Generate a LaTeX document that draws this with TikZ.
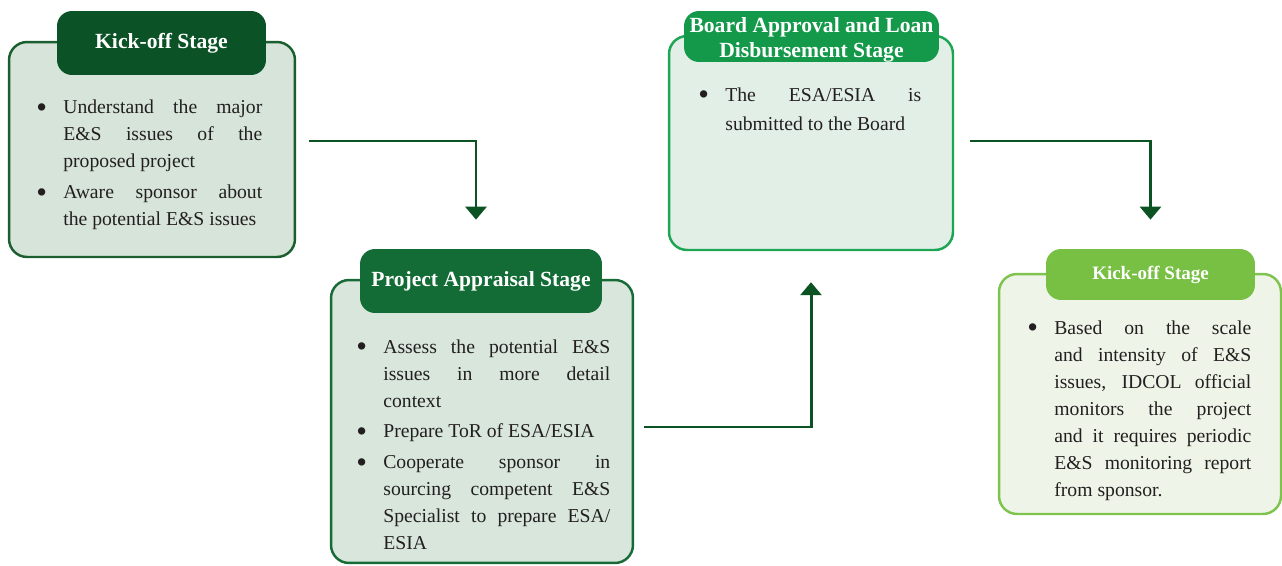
\documentclass[tikz,border=0pt]{standalone}
\usepackage{fontspec}
\usepackage{graphicx}
\setmainfont{Liberation Serif}
\usetikzlibrary{arrows.meta}
\hbadness=10000

\definecolor{inkdark}{HTML}{231F20}
\definecolor{flowgreen}{HTML}{0B5323}
\definecolor{kickline}{HTML}{1B5E2F}
\definecolor{kickfill}{HTML}{D6E4DA}
\definecolor{kicktab}{HTML}{0B5226}
\definecolor{apprline}{HTML}{176B37}
\definecolor{apprfill}{HTML}{D8E6DC}
\definecolor{apprtab}{HTML}{136B35}
\definecolor{boardline}{HTML}{1EA553}
\definecolor{boardfill}{HTML}{E2EFE6}
\definecolor{boardtab}{HTML}{14994A}
\definecolor{monline}{HTML}{7FC34F}
\definecolor{monfill}{HTML}{EEF5E8}
\definecolor{montab}{HTML}{77C043}

\tikzset{
	stagebox/.style={draw, line width=1.4pt, rounded corners=0.36cm, inner sep=0pt},
	stagetab/.style={rounded corners=0.3cm, inner sep=0pt, text=white, align=center,
		font=\bfseries\fontsize{12.3}{14.2}\selectfont},
	stagetext/.style={anchor=north west, inner sep=0pt, text=inkdark, align=justify,
		font=\fontsize{11.2}{15.4}\selectfont},
	flow/.style={line width=1.7pt, color=flowgreen, -{Triangle[width=0.42cm,length=0.26cm]}},
}
% first bullet of a list, then the following ones
\def\stagefirst{\parskip=2pt\hangindent=0.54cm\hangafter=1\makebox[0.54cm][l]{\raisebox{-0.2em}{\scalebox{1.55}{\textbullet}}}\ignorespaces}
\def\stagebullet{\par\noindent\stagefirst}

\begin{document}
\begin{tikzpicture}[x=0.02cm, y=-0.02cm]
		%%%%% START %%%%%
		\useasboundingbox (0,0) rectangle (1282,565);
		
		% boxes
		\node[stagebox, draw=kickline, fill=kickfill, minimum width=5.72cm, minimum height=4.3cm] (kick) at (152,149.5) {};
		\node[stagebox, draw=apprline, fill=apprfill, minimum width=6.04cm, minimum height=5.66cm] (appraisal) at (482,421.5) {};
		\node[stagebox, draw=boardline, fill=boardfill, minimum width=5.68cm, minimum height=4.28cm] (board) at (811,143) {};
		\node[stagebox, draw=monline, fill=monfill, minimum width=5.64cm, minimum height=4.8cm] (monitor) at (1140,394) {};
		
		% title tabs
		\node[stagetab, fill=kicktab, minimum width=4.18cm, minimum height=1.28cm] (kicktab) at (161.5,43) {Kick-off Stage};
		\node[stagetab, fill=apprtab, minimum width=4.84cm, minimum height=1.28cm] (appraisaltab) at (481,281) {Project Appraisal Stage};
		\node[stagetab, fill=boardtab, minimum width=5.1cm, minimum height=1.02cm] (boardtab) at (811.5,36.5) {\rule{0pt}{12pt}Board Approval and Loan\\Disbursement Stage};
		\node[stagetab, fill=montab, minimum width=4.18cm, minimum height=1.02cm, font=\bfseries\fontsize{10.8}{13}\selectfont] (monitortab) at (1150.5,274.5) {Kick-off Stage};
		
		% bullet texts
		\node[stagetext, text width=4.52cm] (kicktext) at (36,99.5) {%
			\stagefirst Understand the major\linebreak E\&S issues of the\linebreak proposed project
			\stagebullet Aware sponsor about\linebreak the potential E\&S issues\par};
		\node[stagetext, text width=5.08cm] (appraisaltext) at (356,339) {%
			\stagefirst Assess the potential E\&S\linebreak issues in more detail\linebreak context
			\stagebullet Prepare ToR of ESA/ESIA
			\stagebullet Cooperate sponsor in\linebreak sourcing competent E\&S\linebreak Specialist to prepare ESA/\linebreak ESIA\par};
		\node[stagetext, text width=4.46cm, font=\fontsize{11.2}{17}\selectfont] (boardtext) at (698,87) {%
			\stagefirst The ESA/ESIA is\linebreak submitted to the Board\par};
		\node[stagetext, text width=4.48cm] (monitortext) at (1027,320) {%
			\stagefirst Based on the scale\linebreak and intensity of E\&S\linebreak issues, IDCOL official\linebreak monitors the project\linebreak and it requires periodic\linebreak E\&S monitoring report\linebreak from sponsor.\par};
		
		% flow arrows
		\coordinate (k1) at ([shift={(13,-8.5)}]kick.east);
		\coordinate (k2) at ([shift={(-5,-29)}]appraisaltab.north);
		\coordinate (a1) at ([shift={(10,5.5)}]appraisal.east);
		\coordinate (a2) at ([shift={(0,31)}]board.south);
		\coordinate (b1) at ([shift={(16,-2)}]board.east);
		\coordinate (b2) at ([shift={(0,-29)}]monitortab.north);
		\draw[flow] (k1) -| (k2);
		\draw[flow] (a1) -| (a2);
		\draw[flow] (b1) -| (b2);
		
		%%%%% END %%%%%
	\end{tikzpicture}
\end{document}
